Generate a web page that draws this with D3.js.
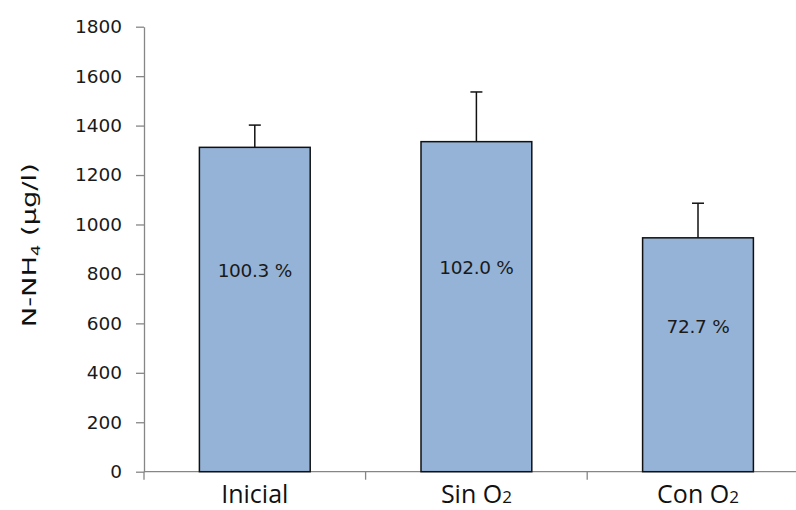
<!DOCTYPE html>
<html>
<head>
<meta charset="utf-8">
<script src="https://cdn.jsdelivr.net/npm/d3@7"></script>
<style>
  html, body { margin: 0; padding: 0; background: #fff; }
  svg { display: block; }
</style>
</head>
<body>
<svg id="chart" width="796" height="510"></svg>
<script>
// Ammonium nitrogen by treatment, with standard deviation and recovery %
const categories = ["Inicial", "Sin O2", "Con O2"];
const means = [1312, 1335, 946];
const errors = [90, 201, 140];
const percentLabels = ["100.3 %", "102.0 %", "72.7 %"];
const yTicks = [0, 200, 400, 600, 800, 1000, 1200, 1400, 1600, 1800];

const svg = d3.select("#chart");
const margin = { left: 144, top: 26.7, bottom: 38.3 };
const height = 510 - margin.top - margin.bottom;
const bandW = 221.6;

const x = d3.scaleBand()
  .domain(categories)
  .range([margin.left, margin.left + bandW * categories.length])
  .paddingInner(0.5).paddingOuter(0.25);

const y = d3.scaleLinear().domain([0, 1800]).range([margin.top + height, margin.top]);

const axisColor = "#868686";

// y axis
const yAxis = svg.append("g")
  .attr("transform", `translate(${margin.left},0)`)
  .call(d3.axisLeft(y).tickValues(yTicks).tickFormat(d3.format("d"))
    .tickSize(8).tickSizeOuter(0).tickPadding(14));
yAxis.select(".domain").attr("stroke", axisColor).attr("stroke-width", 1.3);
yAxis.selectAll(".tick line").attr("stroke", axisColor).attr("stroke-width", 1.3);
yAxis.selectAll(".tick text")
  .attr("font-family", "DejaVu Sans, sans-serif")
  .attr("font-size", 18.5)
  .attr("fill", "#1a1a1a");

// x axis (category separators)
const xAxisY = y(0);
svg.append("line")
  .attr("x1", margin.left).attr("x2", 796)
  .attr("y1", xAxisY).attr("y2", xAxisY)
  .attr("stroke", axisColor).attr("stroke-width", 1.3);
const sepPositions = categories.map((c, i) => margin.left + bandW * i);
svg.selectAll(".xsep").data(sepPositions).join("line")
  .attr("x1", d => d).attr("x2", d => d)
  .attr("y1", xAxisY).attr("y2", xAxisY + 8)
  .attr("stroke", axisColor).attr("stroke-width", 1.3);

// bars
svg.selectAll(".bar").data(categories).join("rect")
  .attr("x", d => x(d))
  .attr("y", (d, i) => y(means[i]))
  .attr("width", x.bandwidth())
  .attr("height", (d, i) => y(0) - y(means[i]))
  .attr("fill", "#95b3d7")
  .attr("stroke", "#111")
  .attr("stroke-width", 1.5);

// error bars (upper whisker only)
const capHalf = 6;
categories.forEach((c, i) => {
  const cx = x(c) + x.bandwidth() / 2;
  svg.append("line")
    .attr("x1", cx).attr("x2", cx)
    .attr("y1", y(means[i])).attr("y2", y(means[i] + errors[i]))
    .attr("stroke", "#111").attr("stroke-width", 1.5);
  svg.append("line")
    .attr("x1", cx - capHalf).attr("x2", cx + capHalf)
    .attr("y1", y(means[i] + errors[i])).attr("y2", y(means[i] + errors[i]))
    .attr("stroke", "#111").attr("stroke-width", 1.5);
});

// recovery labels inside bars
svg.selectAll(".pct").data(percentLabels).join("text")
  .attr("x", (d, i) => x(categories[i]) + x.bandwidth() / 2)
  .attr("y", (d, i) => y(means[i] * 0.615))
  .attr("text-anchor", "middle")
  .attr("dominant-baseline", "middle")
  .attr("font-family", "DejaVu Sans, sans-serif")
  .attr("font-size", 18.5)
  .attr("letter-spacing", -0.3)
  .attr("fill", "#1a1a1a")
  .text(d => d);

// category labels, with the trailing digit set smaller
categories.forEach((c, i) => {
  const t = svg.append("text")
    .attr("x", x(c) + x.bandwidth() / 2)
    .attr("y", xAxisY + 31)
    .attr("text-anchor", "middle")
    .attr("font-family", "Open Sans, sans-serif")
    .attr("font-size", 25)
    .attr("fill", "#111");
  const m = c.match(/^(.*O)(2)$/);
  if (m) {
    t.append("tspan").text(m[1]);
    t.append("tspan").attr("font-size", 17).text(m[2]);
  } else {
    t.text(c);
  }
});

// y axis title, stretched along its length
const yt = svg.append("text")
  .attr("transform", `translate(36, ${(margin.top + y(0)) / 2 - 4}) rotate(-90)`)
  .attr("text-anchor", "middle")
  .attr("font-family", "DejaVu Sans, sans-serif")
  .attr("font-size", 20)
  .attr("textLength", 164)
  .attr("lengthAdjust", "spacingAndGlyphs")
  .attr("fill", "#111");
yt.append("tspan").text("N-NH");
yt.append("tspan").attr("font-size", 13).attr("dy", 4).text("4");
yt.append("tspan").attr("dy", -4).text(" (µg/l)");
</script>
</body>
</html>
